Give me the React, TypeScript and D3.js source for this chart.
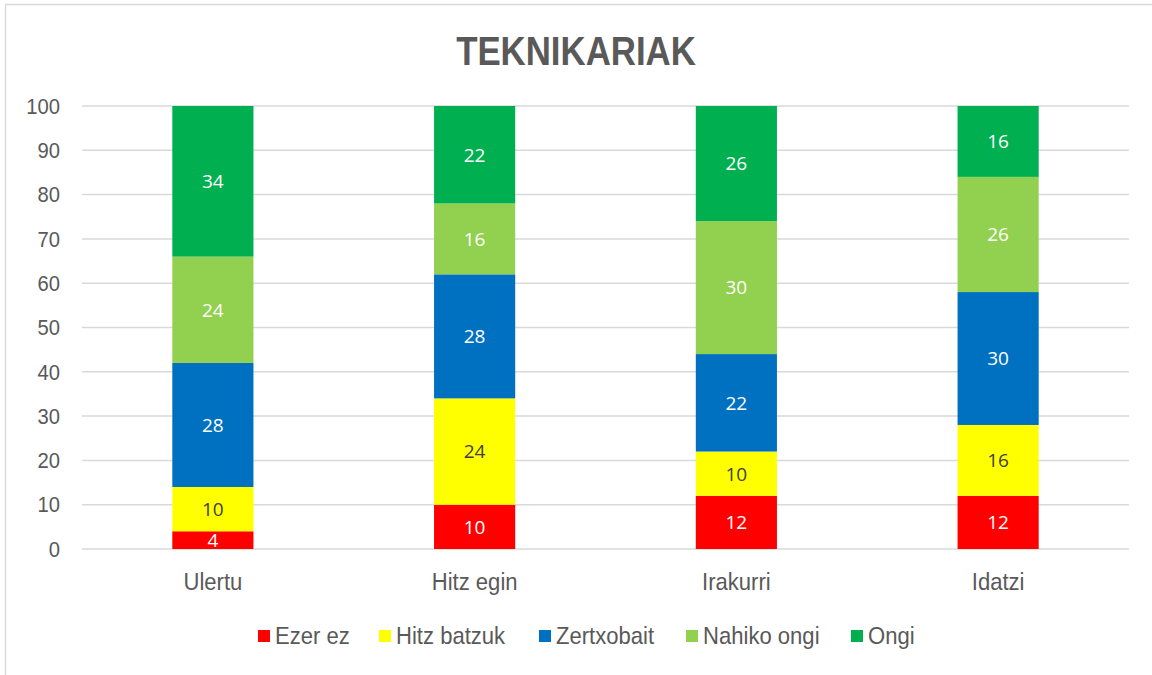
import React from "react";
import * as d3 from "d3";

const categories = ["Ulertu", "Hitz egin", "Irakurri", "Idatzi"];
const seriesNames = ["Ezer ez", "Hitz batzuk", "Zertxobait", "Nahiko ongi", "Ongi"];
const seriesColors = ["#FF0000", "#FFFF00", "#0070C0", "#92D050", "#00B050"];
const ezerEz = [4, 10, 12, 12];
const hitzBatzuk = [10, 24, 10, 16];
const zertxobait = [28, 28, 22, 30];
const nahikoOngi = [24, 16, 30, 26];
const ongi = [34, 22, 26, 16];
const yTicks = [0, 10, 20, 30, 40, 50, 60, 70, 80, 90, 100];

const W = 1152;
const H = 675;
const sans = "'Liberation Sans', Arial, sans-serif";
const labelFont = "'Open Sans', 'Noto Sans', sans-serif";

// condensed-looking text: regular sans squeezed horizontally
function NText({ x, y, sx = 0.92, anchor = "start", size, weight = "normal", children }: any) {
  return (
    <text
      transform={`translate(${x},${y}) scale(${sx},1)`}
      textAnchor={anchor}
      dy="0.35em"
      fontFamily={sans}
      fontSize={size}
      fontWeight={weight}
      fill="#595959"
    >
      {children}
    </text>
  );
}

export default function App() {
  const seriesValues = [ezerEz, hitzBatzuk, zertxobait, nahikoOngi, ongi];
  const rows = categories.map((c, i) => {
    const r: any = { cat: c };
    seriesNames.forEach((s, j) => (r[s] = seriesValues[j][i]));
    return r;
  });
  const stacked = d3.stack().keys(seriesNames)(rows);

  const x = d3.scaleBand().domain(categories).range([82, 1129]).padding(0);
  const y = d3.scaleLinear().domain([0, 100]).range([549, 106]);
  const barW = x.bandwidth() * 0.31;

  // legend layout (square x positions)
  const legendX = [258, 379, 539, 686, 851];

  return (
    <svg
      width={W}
      height={H}
      style={{ position: "absolute", left: 0, top: 0, display: "block", background: "#fff" }}
    >
      <rect x={5.5} y={4.5} width={1170} height={700} fill="#fff" stroke="#d9d9d9" strokeWidth={1.5} />
      <NText x={W / 2} y={51} sx={0.87} anchor="middle" size={40} weight="bold">
        TEKNIKARIAK
      </NText>

      {yTicks.map((t) => (
        <g key={t}>
          <line x1={82} x2={1129} y1={y(t)} y2={y(t)} stroke="#d9d9d9" strokeWidth={1.5} />
          <NText x={60} y={y(t)} anchor="end" size={22}>
            {t}
          </NText>
        </g>
      ))}

      {stacked.map((s, si) => (
        <g key={s.key}>
          {s.map((d, i) => {
            const cx = (x(categories[i]) as number) + x.bandwidth() / 2;
            const y0 = y(d[0]);
            const y1 = y(d[1]);
            return (
              <g key={i}>
                <rect x={cx - barW / 2} y={y1} width={barW} height={y0 - y1} fill={seriesColors[si]} />
                <text
                  x={cx}
                  y={(y0 + y1) / 2}
                  dy="0.36em"
                  textAnchor="middle"
                  fontFamily={labelFont}
                  fontSize={19}
                  fill={si === 1 ? "#404040" : "#ffffff"}
                >
                  {d[1] - d[0]}
                </text>
              </g>
            );
          })}
        </g>
      ))}

      {categories.map((c) => (
        <NText key={c} x={(x(c) as number) + x.bandwidth() / 2} y={582} anchor="middle" size={24}>
          {c}
        </NText>
      ))}

      {seriesNames.map((s, i) => (
        <g key={s} transform={`translate(${legendX[i]},636)`}>
          <rect x={0} y={-6} width={12} height={12} fill={seriesColors[i]} />
          <NText x={17} y={0} size={24}>
            {s}
          </NText>
        </g>
      ))}
    </svg>
  );
}
